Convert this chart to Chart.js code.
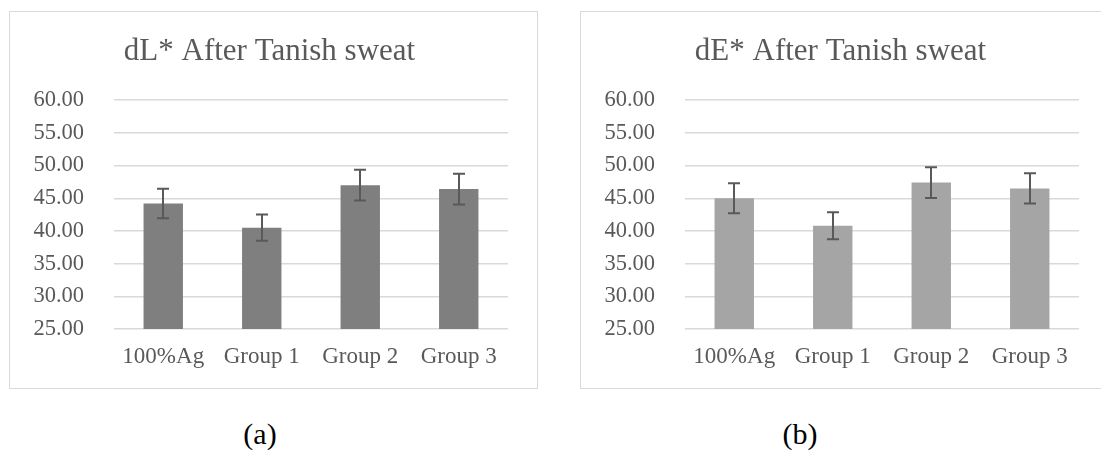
<!DOCTYPE html>
<html>
<head>
<meta charset="utf-8">
<script src="https://cdn.jsdelivr.net/npm/chart.js@4.4.1/dist/chart.umd.min.js"></script>
<style>
  html, body { margin: 0; padding: 0; background: #fff; }
  body { width: 1101px; height: 452px; position: relative; overflow: hidden; font-family: "Liberation Serif", "Times New Roman", serif; }
  .box { position: absolute; top: 11px; height: 378px; border: 1.5px solid #d9d9d9; box-sizing: border-box; background: #fff; }
  #box-a { left: 9px; width: 529px; }
  #box-b { left: 580px; width: 540px; border-right: none; }
  .cap { position: absolute; top: 417px; font-size: 30px; line-height: 34px; color: #000; width: 80px; text-align: center; }
</style>
</head>
<body>
<div class="box" id="box-a"><canvas id="chart-a"></canvas></div>
<div class="box" id="box-b"><canvas id="chart-b"></canvas></div>
<div class="cap" style="left:220px">(a)</div>
<div class="cap" style="left:760px">(b)</div>

<script>
// data
const categories = ['100%Ag', 'Group 1', 'Group 2', 'Group 3'];
const dLValues = [44.2, 40.5, 47.0, 46.4];
const dLErrors = [2.25, 2.0, 2.36, 2.34];
const dEValues = [45.0, 40.8, 47.4, 46.5];
const dEErrors = [2.29, 2.06, 2.36, 2.31];
const yTicks = [25, 30, 35, 40, 45, 50, 55, 60];

const serif = '"Liberation Serif", "Times New Roman", serif';
const textColor = '#595959';

// draws the error whiskers through the y scale
const errorBars = {
  id: 'errorBars',
  afterDatasetsDraw(chart, args, opts) {
    const ctx = chart.ctx;
    const y = chart.scales.y;
    const meta = chart.getDatasetMeta(0);
    const vals = chart.data.datasets[0].data;
    ctx.save();
    ctx.strokeStyle = opts.color || '#595959';
    ctx.lineWidth = 2;
    meta.data.forEach((bar, i) => {
      const top = y.getPixelForValue(vals[i] + opts.errors[i]);
      const bot = y.getPixelForValue(vals[i] - opts.errors[i]);
      const cx = Math.round(bar.x);
      ctx.beginPath();
      ctx.moveTo(cx, top); ctx.lineTo(cx, bot);
      ctx.moveTo(cx - 6, top); ctx.lineTo(cx + 6, top);
      ctx.moveTo(cx - 6, bot); ctx.lineTo(cx + 6, bot);
      ctx.stroke();
    });
    ctx.restore();
  }
};

function makeChart(id, titleText, values, errors, color, w, padRight) {
  const el = document.getElementById(id);
  el.width = w; el.height = 375;
  el.style.width = w + 'px'; el.style.height = '375px';
  return new Chart(el, {
    type: 'bar',
    data: {
      labels: categories,
      datasets: [{
        data: values,
        backgroundColor: color,
        categoryPercentage: 1,
        barPercentage: 0.4
      }]
    },
    options: {
      responsive: false,
      animation: false,
      layout: { padding: { left: 21, right: padRight, bottom: 16, top: 0 } },
      plugins: {
        legend: { display: false },
        tooltip: { enabled: false },
        title: {
          display: true,
          text: titleText,
          color: textColor,
          font: { family: serif, size: 31, weight: 'normal' },
          padding: { top: 21, bottom: 30 }
        },
        errorBars: { errors: errors, color: '#595959' }
      },
      scales: {
        y: {
          min: 25,
          max: 60,
          afterBuildTicks: axis => { axis.ticks = yTicks.map(v => ({ value: v })); },
          afterFit: axis => { axis.width = 83; },
          grid: { color: '#d9d9d9', lineWidth: 1.5, drawTicks: false },
          border: { display: false },
          ticks: {
            autoSkip: false,
            padding: 30,
            color: textColor,
            font: { family: serif, size: 22.5 },
            callback: v => Number(v).toFixed(2)
          }
        },
        x: {
          afterFit: axis => { axis.height = 42; },
          grid: { display: false, drawTicks: false },
          border: { display: false },
          ticks: {
            autoSkip: false,
            maxRotation: 0,
            padding: 14,
            color: textColor,
            font: { family: serif, size: 23 }
          }
        }
      }
    },
    plugins: [errorBars]
  });
}

makeChart('chart-a', 'dL* After Tanish sweat', dLValues, dLErrors, '#7f7f7f', 526, 28);
makeChart('chart-b', 'dE* After Tanish sweat', dEValues, dEErrors, '#a5a5a5', 538, 40);
</script>
</body>
</html>
